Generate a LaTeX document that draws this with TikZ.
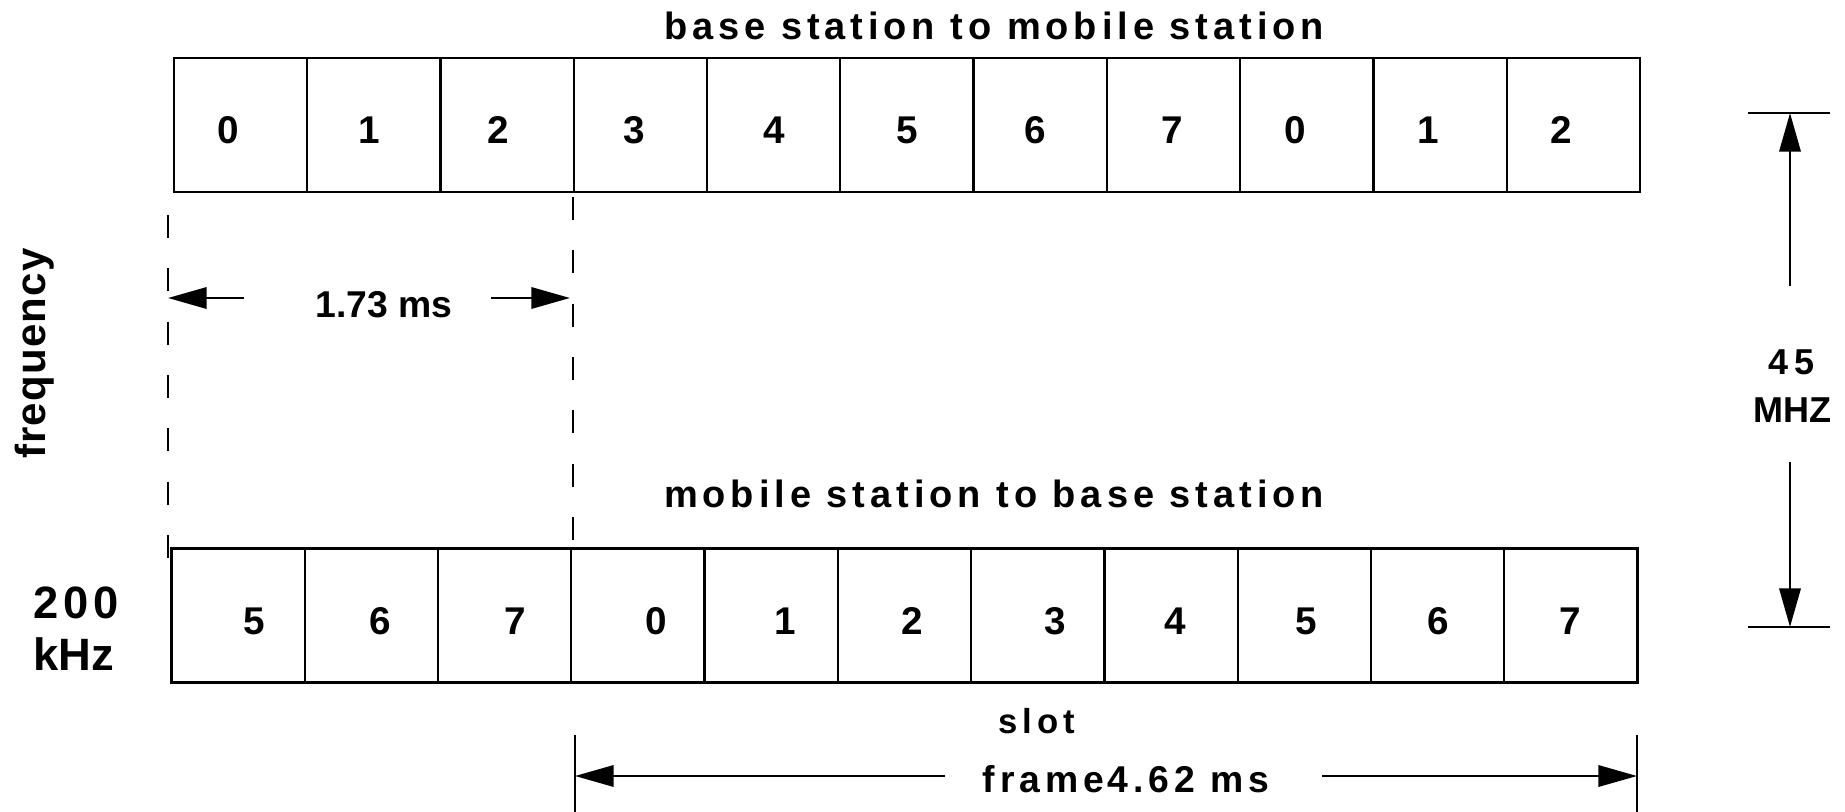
\documentclass[tikz,border=0pt]{standalone}
\usepackage{fontspec}
\setmainfont{Liberation Sans}
\usetikzlibrary{arrows.meta}
\newcommand{\txtfont}[2]{\fontsize{#1}{#1}\selectfont\bfseries\addfontfeature{LetterSpace=#2}}
\begin{document}
\begin{tikzpicture}[x=0.75pt,y=-0.75pt,
  slotbox/.style={draw,line width=1.7pt,minimum width=99.95pt,minimum height=100.5pt,inner sep=0pt,outer sep=0pt},
  digit/.style={font=\txtfont{29}{0},anchor=base,inner sep=0pt},
  caption/.style={font=\txtfont{28.5}{13},anchor=base,inner sep=0pt},
  guide/.style={line width=1.5pt,dash pattern=on 17.25pt off 22.75pt},
  dimline/.style={line width=1.8pt,-{Triangle[length=29pt,width=16pt]}},
  tickline/.style={line width=2pt}]
\useasboundingbox (0,0) rectangle (1845,812);

% downlink slots (base station to mobile station)
\foreach \i in {1,...,11}
  \node[slotbox] (t\i) at ({174+133.27*(\i-0.5)},125) {};
\draw[line width=2.1pt] (t1.north west) rectangle (t11.south east);
\foreach \d/\x [count=\i] in {0/228,1/369.5,2/498,3/634,4/774,5/907,6/1035,7/1172,0/1295,1/1428,2/1561}
  \node[digit] (td\i) at (\x,144) {\d};

% uplink slots (mobile station to base station)
\foreach \i in {1,...,11}
  \node[slotbox] (b\i) at ({171.5+133.27*(\i-0.5)},615.5) {};
\draw[line width=2.1pt] (b1.north west) rectangle (b11.south east);
\foreach \d/\x [count=\i] in {5/254,6/380,7/515,0/656,1/785,2/912,3/1055,4/1175,5/1306,6/1438,7/1570}
  \node[digit] (bd\i) at (\x,634) {\d};

% captions
\node[caption] (down) at (994,40) {base station to mobile station};
\node[caption] (up) at (994,508) {mobile station to base station};
\node[font=\txtfont{31.5}{3},rotate=90,anchor=base,inner sep=0pt] (freq) at (45,353.5) {frequency};
\node[font=\txtfont{34}{10},anchor=base,inner sep=0pt] (bw) at (76,618) {200};
\node[font=\txtfont{34}{0},anchor=base,inner sep=0pt] (bwu) at (74,670) {kHz};
\node[font=\txtfont{27}{15},anchor=base,inner sep=0pt] (dup) at (1791.5,375) {45};
\node[font=\txtfont{27}{0},anchor=base,inner sep=0pt] (dupu) at (1792.5,423) {MHZ};
\node[font=\txtfont{26}{14},anchor=base,inner sep=0pt] (slot) at (1036.5,733) {slot};
\node[font=\txtfont{28}{13},anchor=base,inner sep=0pt] (frame) at (1126,792) {frame\hspace{3pt}4.62 ms};
\node[font=\txtfont{28}{0},anchor=base,inner sep=0pt] (slotlen) at (384,318) {1.73 ms};

% dashed guide lines bounding one slot pair
\coordinate (gl1) at (168,215);
\coordinate (gl2) at (168,558);
\coordinate (gr1) at (573,197);
\coordinate (gr2) at (573,540);
\draw[guide] (gl1) -- (gl2);
\draw[guide] (gr1) -- (gr2);

% 1.73 ms dimension
\coordinate (sa1) at (244,298);
\coordinate (sa1t) at (168,298);
\coordinate (sa2) at (491,298);
\coordinate (sa2t) at (570,298);
\draw[dimline] (sa1) -- (sa1t);
\draw[dimline] (sa2) -- (sa2t);

% 45 MHz duplex spacing
\coordinate (mt1) at (1748,113);
\coordinate (mt2) at (1830,113);
\coordinate (mb1) at (1748,627);
\coordinate (mb2) at (1830,627);
\coordinate (mu) at (1790,286);
\coordinate (mut) at (1790,113);
\coordinate (md) at (1790,462);
\coordinate (mdt) at (1790,627);
\draw[tickline] (mt1) -- (mt2);
\draw[tickline] (mb1) -- (mb2);
\draw[dimline] (mu) -- (mut);
\draw[dimline] (md) -- (mdt);

% frame dimension
\coordinate (fl1) at (575,735);
\coordinate (fl2) at (575,812);
\coordinate (fr1) at (1637,735);
\coordinate (fr2) at (1637,812);
\coordinate (fa1) at (945,776);
\coordinate (fa1t) at (575,776);
\coordinate (fa2) at (1322,776);
\coordinate (fa2t) at (1637,776);
\draw[tickline] (fl1) -- (fl2);
\draw[tickline] (fr1) -- (fr2);
\draw[dimline] (fa1) -- (fa1t);
\draw[dimline] (fa2) -- (fa2t);
\end{tikzpicture}
\end{document}
